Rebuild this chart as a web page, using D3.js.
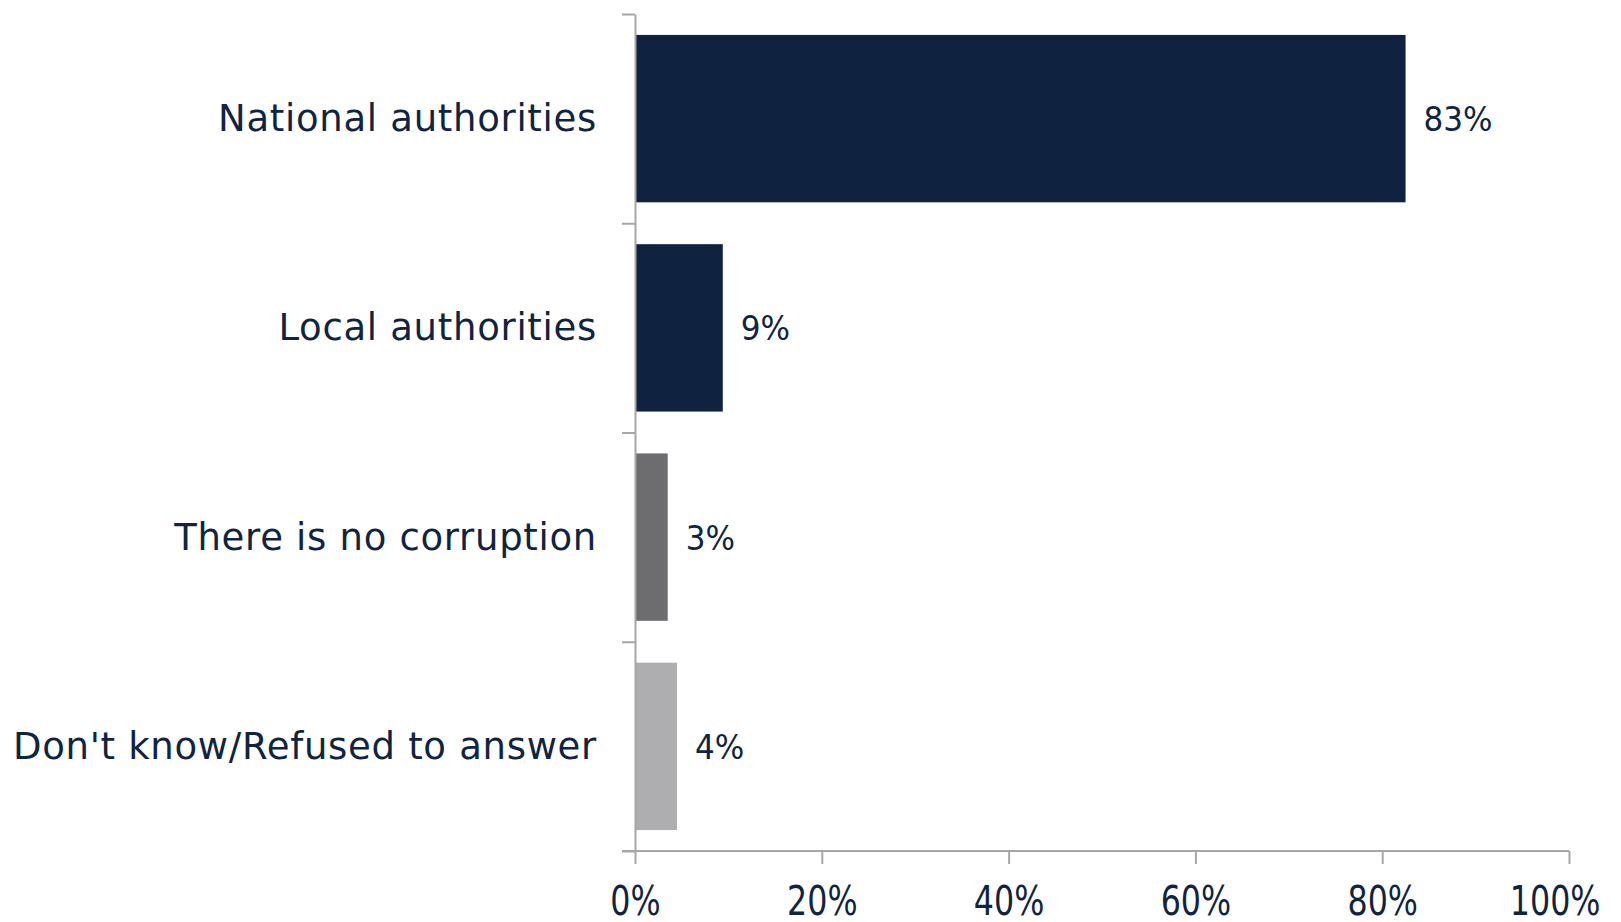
<!DOCTYPE html>
<html>
<head>
<meta charset="utf-8">
<script src="https://cdn.jsdelivr.net/npm/d3@7"></script>
<style>
  body { margin: 0; background: #fff; }
  text { font-family: "DejaVu Sans Condensed", "DejaVu Sans", sans-serif; fill: #10243f; }
  .axis path, .axis line { stroke: #a6a6a8; stroke-width: 2; }
</style>
</head>
<body>
<svg width="1621" height="922"></svg>
<script>
var categories = ["National authorities", "Local authorities", "There is no corruption", "Don't know/Refused to answer"];
var values = [82.5, 9.4, 3.5, 4.5];
var valueLabels = ["83%", "9%", "3%", "4%"];
var barColors = ["#0f2341", "#0f2341", "#6d6d6f", "#aeaeb0"];
var xTicks = [0, 20, 40, 60, 80, 100];

var svg = d3.select("svg");
var width = +svg.attr("width");
var plotLeft = 635, plotRight = 1569, plotTop = 14, plotBottom = 851;

var x = d3.scaleLinear().domain([0, 100]).range([plotLeft, plotRight]);
var y = d3.scaleBand().domain(categories).range([plotTop, plotBottom]).paddingInner(0.2).paddingOuter(0.1);
// band edges for the tick marks on the category axis
var yEdge = d3.scaleLinear().domain([0, categories.length]).range([plotTop, plotBottom]);

svg.selectAll(".bar")
  .data(categories)
  .enter().append("rect")
    .attr("class", "bar")
    .attr("x", x(0))
    .attr("y", function(d) { return y(d); })
    .attr("width", function(d, i) { return x(values[i]) - x(0); })
    .attr("height", y.bandwidth())
    .style("fill", function(d, i) { return barColors[i]; });

svg.selectAll(".val")
  .data(categories)
  .enter().append("text")
    .attr("class", "val")
    .attr("x", function(d, i) { return x(values[i]) + 18; })
    .attr("y", function(d) { return y(d) + y.bandwidth() / 2; })
    .attr("dy", "0.36em")
    .style("font-size", "34.5px")
    .text(function(d, i) { return valueLabels[i]; });

svg.selectAll(".cat")
  .data(categories)
  .enter().append("text")
    .attr("class", "cat")
    .attr("x", plotLeft - 38)
    .attr("y", function(d) { return y(d) + y.bandwidth() / 2; })
    .attr("dy", "0.34em")
    .attr("text-anchor", "end")
    .style("font-family", "'DejaVu Sans', sans-serif")
    .style("font-size", "37px")
    .style("letter-spacing", "0.7px")
    .text(function(d) { return d; });

svg.append("g")
  .attr("class", "axis")
  .attr("transform", "translate(" + plotLeft + ",0)")
  .call(d3.axisLeft(yEdge).ticks(categories.length).tickFormat("").tickSize(13).tickSizeOuter(0));

var xAxis = svg.append("g")
  .attr("class", "axis")
  .attr("transform", "translate(0," + plotBottom + ")")
  .call(d3.axisBottom(x).tickValues(xTicks).tickFormat(function(d) { return d + "%"; }).tickSize(13).tickSizeOuter(0).tickPadding(22));

// tick labels in the reference are tall and narrow
xAxis.selectAll("text")
  .style("font-size", "41px")
  .attr("fill", null)
  .attr("transform", "scale(0.86,1)");

// keep the last label inside the picture, as the reference does
xAxis.selectAll(".tick").each(function(d) {
  var t = d3.select(this).select("text");
  var half = t.node().getBBox().width * 0.86 / 2;
  var over = x(d) + half - (width - 21);
  if (over > 0) t.attr("transform", "translate(" + (-over) + ",0) scale(0.86,1)");
});
xAxis.select(".domain").attr("d", "M" + (plotLeft - 13) + ",0H" + plotRight);
</script>
</body>
</html>
